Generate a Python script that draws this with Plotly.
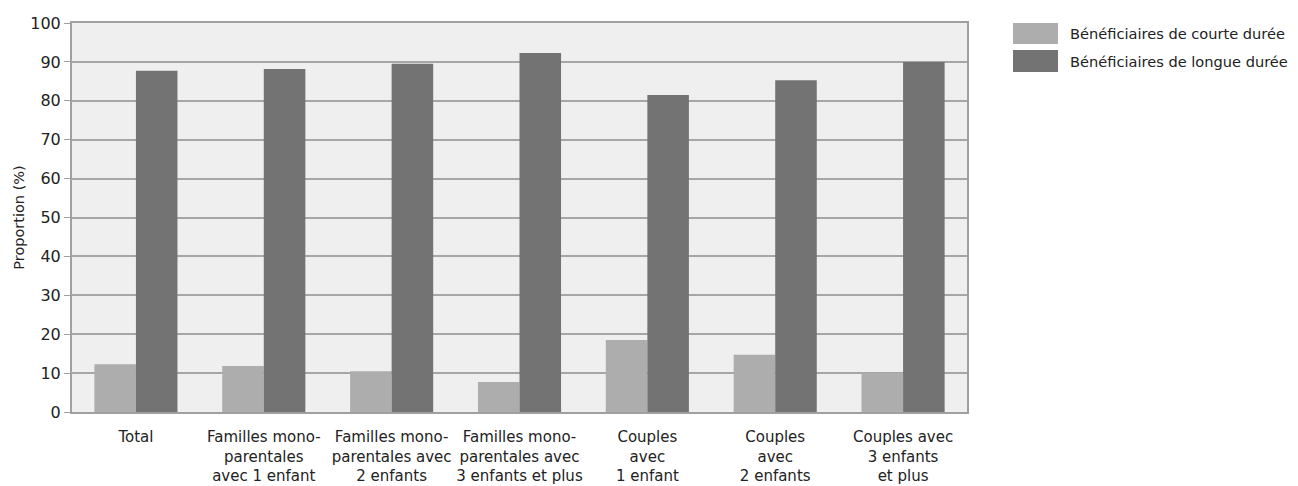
import plotly.graph_objects as go

categories = [
    "Total",
    "Familles mono-<br>parentales<br>avec 1 enfant",
    "Familles mono-<br>parentales avec<br>2 enfants",
    "Familles mono-<br>parentales avec<br>3 enfants et plus",
    "Couples<br>avec<br>1 enfant",
    "Couples<br>avec<br>2 enfants",
    "Couples avec<br>3 enfants<br>et plus",
]
courte_duree = [12.3, 11.8, 10.5, 7.7, 18.5, 14.7, 10.0]
longue_duree = [87.7, 88.2, 89.5, 92.3, 81.5, 85.3, 90.0]
series_names = ["Bénéficiaires de courte durée", "Bénéficiaires de longue durée"]
series_colors = ["#adadad", "#737373"]

FONT = "DejaVu Sans, sans-serif"

fig = go.Figure()
for name, vals, col in zip(series_names, [courte_duree, longue_duree], series_colors):
    fig.add_trace(go.Bar(x=categories, y=vals, name=name, marker_color=col,
                         marker_line_width=0, showlegend=False))

# hand-made legend with the wide swatches of the original
legend_rows = [(1.0, 0.946, 0.973), (0.9306, 0.874, 0.902)]
for (top, bottom, mid), name, col in zip(legend_rows, series_names, series_colors):
    fig.add_shape(type="rect", xref="paper", yref="paper",
                  x0=1.0514, x1=1.1017, y0=bottom, y1=top,
                  fillcolor=col, line_width=0)
    fig.add_annotation(text=name, xref="paper", yref="paper",
                       x=1.1128, y=mid, xanchor="left", yanchor="middle",
                       showarrow=False, font=dict(size=14.6, color="#222", family=FONT))

# page body has a small margin, so the figure sits a few px in
fig.update_layout(
    width=1290, height=478,
    margin=dict(l=64, r=331, t=15, b=74),
    barmode="group",
    bargap=0.35,
    bargroupgap=0,
    plot_bgcolor="#efefef",
    paper_bgcolor="white",
    font=dict(family=FONT, size=15, color="#222"),
)
fig.update_xaxes(showline=True, linecolor="#a0a0a0", linewidth=2, mirror=True,
                 tickfont=dict(size=15), ticks="outside", ticklen=10,
                 tickcolor="rgba(0,0,0,0)", automargin=False)
fig.update_yaxes(range=[0, 100], dtick=10, showgrid=True, gridcolor="#a6a6a6", gridwidth=1.5,
                 showline=True, linecolor="#a0a0a0", linewidth=2, mirror=True,
                 ticks="outside", ticklen=6, tickcolor="#a0a0a0",
                 title=dict(text="Proportion (%)", font=dict(size=14.5), standoff=2),
                 tickfont=dict(size=16), zeroline=False, automargin=False)

fig.write_html("out.html")
